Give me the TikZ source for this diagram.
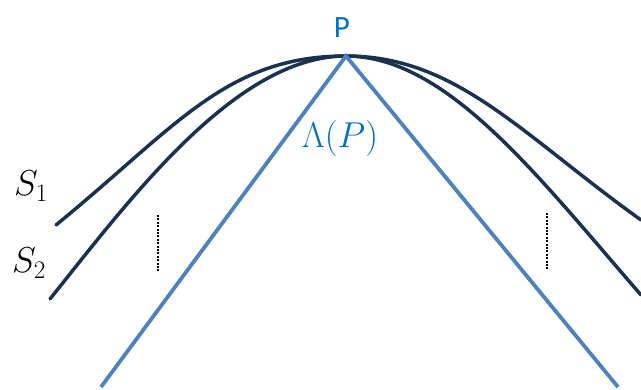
\RequirePackage{fix-cm}
\documentclass[tikz,border=0pt]{standalone}
\usepackage{amsmath}
\usepackage{fontspec}
\newfontfamily\labelfont{Carlito}
\usetikzlibrary{positioning}

\definecolor{surfnavy}{RGB}{26,50,80}
\definecolor{coneblue}{RGB}{79,129,189}
\definecolor{textblue}{RGB}{0,112,192}

\begin{document}
\begin{tikzpicture}[
    x=1pt, y=-1pt,
    surface/.style={draw=surfnavy, line width=3.5pt, line cap=round},
    cone/.style={draw=coneblue, line width=3.8pt},
    gap/.style={draw=black, line width=2.6pt, dash pattern=on 2pt off 1.4pt},
    mathlabel/.style={font=\fontsize{36}{40}\selectfont, inner sep=0pt},
    toplabel/.style={font=\labelfont\fontsize{31}{34}\selectfont, text=textblue, inner sep=0pt}
]
\useasboundingbox (0,0) rectangle (641,389);

\coordinate (P) at (346,56);
\coordinate (c1) at (101,387);
\coordinate (c2) at (618,387);

% two surfaces through P
\draw[surface] (56,225) .. controls (176,127) and (226,56) .. (P)
    .. controls (456,56) and (521,134) .. (641,220);
\draw[surface] (50,299) .. controls (130,199) and (236,56) .. (P)
    .. controls (446,56) and (536,174) .. (641,295);

% light cone at P
\draw[cone] (c1) -- (P) -- (c2);

\draw[gap] (158,215) -- (158,272);
\draw[gap] (547,213) -- (547,269);

\node[toplabel] (lblP) at (342,28) {P};
\node[mathlabel, text=textblue] (lam) at (340,138) {$\Lambda(P)$};
\node[mathlabel] (s1) at (31,186) {$S_1$};
\node[mathlabel] (s2) at (29,263) {$S_2$};

\end{tikzpicture}
\end{document}
